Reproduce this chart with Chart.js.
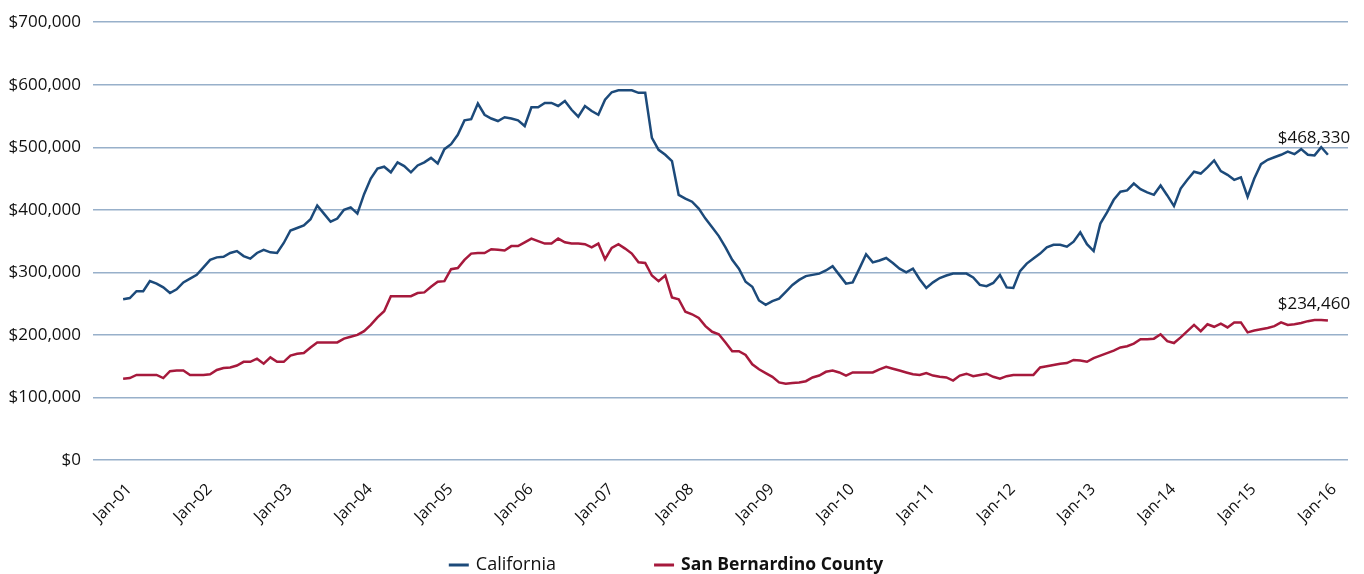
<!DOCTYPE html>
<html>
<head>
<meta charset="utf-8">
<script src="https://cdn.jsdelivr.net/npm/chart.js@4.4.0/dist/chart.umd.min.js"></script>
<style>
  html, body { margin: 0; padding: 0; background: #fff; }
  #wrap { width: 1364px; height: 574px; position: relative; }
</style>
</head>
<body>
<div id="wrap"><canvas id="chart" width="1364" height="574"></canvas></div>
<script>
// Tick labels, one per January (month index 0, 12, 24 ...)
const tickLabels = ['Jan-01', 'Jan-02', 'Jan-03', 'Jan-04', 'Jan-05', 'Jan-06', 'Jan-07', 'Jan-08',
    'Jan-09', 'Jan-10', 'Jan-11', 'Jan-12', 'Jan-13', 'Jan-14', 'Jan-15', 'Jan-16'];

const seriesNames = ['California', 'San Bernardino County'];

// Monthly median price, Jan-01 .. Jan-16
const california = [
    257000, 259000, 270000, 270000, 286000, 282000, 276000, 267000, 273000, 284000, 290000, 296000,
    308000, 320000, 324000, 325000, 331000, 334000, 326000, 322000, 331000, 336000, 332000, 331000,
    347000, 367000, 371000, 375000, 385000, 407000, 394000, 381000, 386000, 400000, 404000, 394000,
    425000, 450000, 466000, 469000, 460000, 476000, 470000, 460000, 471000, 476000, 483000, 474000,
    497000, 505000, 520000, 543000, 545000, 570000, 552000, 546000, 542000, 548000, 546000, 543000,
    534000, 564000, 564000, 571000, 571000, 566000, 574000, 560000, 549000, 566000, 558000, 552000,
    576000, 588000, 591000, 591000, 591000, 587000, 587000, 515000, 496000, 488000, 478000, 424000,
    418000, 413000, 402000, 386000, 372000, 358000, 340000, 320000, 306000, 285000, 277000, 255000,
    248000, 254000, 258000, 269000, 280000, 288000, 294000, 296000, 298000, 303000, 310000, 296000,
    282000, 284000, 306000, 329000, 316000, 319000, 323000, 315000, 306000, 300000, 306000, 289000,
    275000, 284000, 291000, 295000, 298000, 298000, 298000, 292000, 280000, 278000, 283000, 296000,
    276000, 275000, 302000, 314000, 322000, 330000, 340000, 344000, 344000, 341000, 349000, 364000,
    345000, 334000, 378000, 396000, 416000, 429000, 431000, 442000, 433000, 428000, 424000, 439000,
    423000, 406000, 434000, 448000, 461000, 458000, 468000, 479000, 462000, 456000, 448000, 452000,
    421000, 450000, 473000, 480000, 484000, 488000, 493000, 489000, 497000, 488000, 487000, 500000,
    488000
];

const sanBernardino = [
    130000, 131000, 136000, 136000, 136000, 136000, 131000, 142000, 143000, 143000, 136000, 136000,
    136000, 137000, 144000, 147000, 148000, 151000, 157000, 157000, 162000, 154000, 164000, 157000,
    157000, 167000, 170000, 171000, 180000, 188000, 188000, 188000, 188000, 194000, 197000, 200000,
    206000, 216000, 228000, 238000, 262000, 262000, 262000, 262000, 267000, 268000, 277000, 285000,
    286000, 305000, 307000, 320000, 330000, 331000, 331000, 337000, 336000, 335000, 342000, 342000,
    348000, 354000, 350000, 346000, 346000, 354000, 348000, 346000, 346000, 345000, 340000, 346000,
    321000, 339000, 345000, 338000, 330000, 316000, 315000, 295000, 286000, 295000, 260000, 257000,
    237000, 233000, 227000, 214000, 205000, 201000, 188000, 174000, 174000, 168000, 153000, 145000,
    139000, 133000, 124000, 122000, 123000, 124000, 126000, 132000, 135000, 141000, 143000, 140000,
    135000, 140000, 140000, 140000, 140000, 145000, 149000, 146000, 143000, 140000, 137000, 136000,
    139000, 135000, 133000, 132000, 127000, 135000, 138000, 134000, 136000, 138000, 133000, 130000,
    134000, 136000, 136000, 136000, 136000, 148000, 150000, 152000, 154000, 155000, 160000, 159000,
    157000, 163000, 167000, 171000, 175000, 180000, 182000, 186000, 193000, 193000, 194000, 201000,
    190000, 187000, 196000, 206000, 216000, 206000, 217000, 213000, 218000, 212000, 220000, 220000,
    204000, 207000, 209000, 211000, 214000, 220000, 216000, 217000, 219000, 222000, 224000, 224000,
    223000
];

// Values printed at the end of each line
const endValues = [468330, 234460];

const colors = ['#1c4a7a', '#a6193c'];
const fontFamily = '"Open Sans", "Noto Sans", sans-serif';

const money = v => '$' + Number(v).toLocaleString('en-US');

// Label the last point of each line
const endLabelPlugin = {
    id: 'endLabels',
    afterDatasetsDraw(chart) {
        const ctx = chart.ctx;
        ctx.save();
        ctx.font = '17px ' + fontFamily;
        ctx.fillStyle = '#111';
        ctx.textAlign = 'center';
        ctx.textBaseline = 'alphabetic';
        chart.data.datasets.forEach((ds, i) => {
            const pts = chart.getDatasetMeta(i).data;
            const last = pts[pts.length - 1];
            ctx.fillText(money(endValues[i]), last.x - 14, last.y - 12);
        });
        ctx.restore();
    }
};

// Legend drawn by hand so the second entry can be bold
const legendPlugin = {
    id: 'customLegend',
    afterDraw(chart) {
        const ctx = chart.ctx;
        const y = 565;
        const fonts = ['18px ' + fontFamily, 'bold 17.5px ' + fontFamily];
        const widths = seriesNames.map((n, i) => {
            ctx.font = fonts[i];
            return ctx.measureText(n).width;
        });
        const marker = 20, gap = 7, spacing = 98;
        const total = marker * 2 + gap * 2 + widths[0] + widths[1] + spacing;
        let x = 666 - total / 2;
        ctx.save();
        seriesNames.forEach((n, i) => {
            ctx.strokeStyle = colors[i];
            ctx.lineWidth = 3;
            ctx.beginPath();
            ctx.moveTo(x, y);
            ctx.lineTo(x + marker, y);
            ctx.stroke();
            x += marker + gap;
            ctx.font = fonts[i];
            ctx.fillStyle = '#111';
            ctx.textBaseline = 'middle';
            ctx.textAlign = 'left';
            ctx.fillText(n, x, y);
            x += widths[i] + spacing;
        });
        ctx.restore();
    }
};

const toPoints = arr => arr.map((v, i) => ({ x: i, y: v }));

new Chart(document.getElementById('chart').getContext('2d'), {
    type: 'line',
    data: {
        datasets: [
            {
                label: seriesNames[0],
                data: toPoints(california),
                borderColor: colors[0],
                borderWidth: 2.5,
                pointRadius: 0,
                tension: 0
            },
            {
                label: seriesNames[1],
                data: toPoints(sanBernardino),
                borderColor: colors[1],
                borderWidth: 2.5,
                pointRadius: 0,
                tension: 0
            }
        ]
    },
    options: {
        responsive: false,
        animation: false,
        layout: { padding: { top: 22, right: 16, left: 0, bottom: 0 } },
        plugins: {
            legend: { display: false },
            tooltip: { enabled: false }
        },
        scales: {
            x: {
                type: 'linear',
                min: -4.5,
                max: 183,
                grid: { display: false },
                border: { display: false },
                afterFit(scale) { scale.height = 114; },
                afterBuildTicks(scale) {
                    scale.ticks = tickLabels.map((_, i) => ({ value: i * 12 }));
                },
                ticks: {
                    autoSkip: false,
                    maxRotation: 45,
                    minRotation: 45,
                    padding: 12,
                    labelOffset: 6,
                    color: '#111',
                    font: { family: fontFamily, size: 16 },
                    callback: v => tickLabels[Math.round(v / 12)]
                }
            },
            y: {
                min: 0,
                max: 700000,
                afterFit(scale) { scale.width = 93; },
                grid: { color: '#98b0ca', lineWidth: 1.5, drawTicks: false },
                border: { display: false },
                ticks: {
                    stepSize: 100000,
                    padding: 12,
                    color: '#111',
                    font: { family: fontFamily, size: 17 },
                    callback: v => money(v)
                }
            }
        }
    },
    plugins: [endLabelPlugin, legendPlugin]
});
</script>
</body>
</html>
